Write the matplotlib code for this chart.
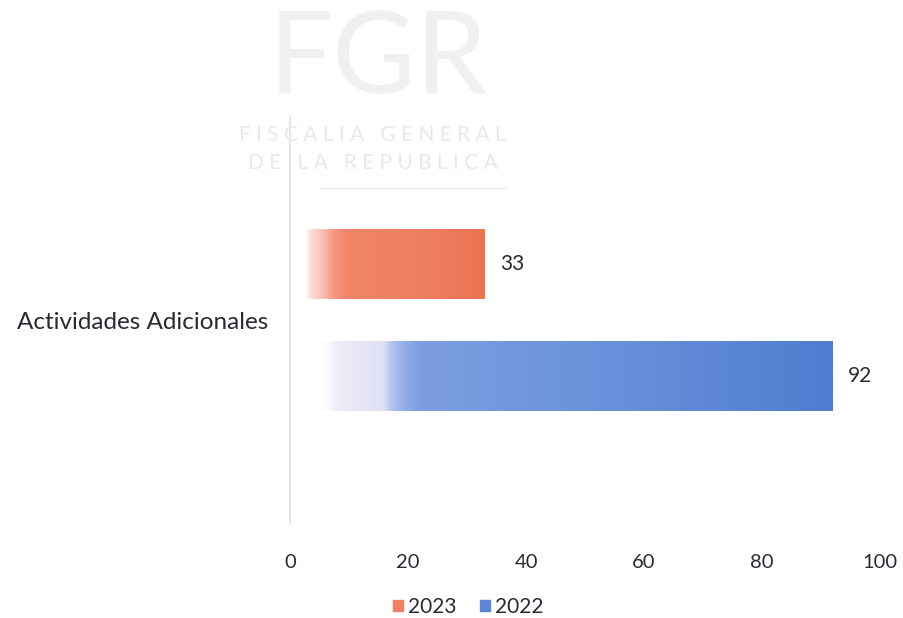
import numpy as np
import matplotlib
matplotlib.use("Agg")
import matplotlib.pyplot as plt
from matplotlib.colors import LinearSegmentedColormap
from matplotlib.patches import Patch

plt.rcParams['font.family'] = ['Lato', 'DejaVu Sans']

# datos
categoria = 'Actividades Adicionales'
anios = ['2023', '2022']
valores = [33, 92]
xticks = [0, 20, 40, 60, 80, 100]

# colores (degradado de blanco a color)
grad_2023 = [(0.0, '#ffffff'), (0.08, '#ffffff'), (0.10, '#fbe0dc'), (0.16, '#f8c3b8'),
             (0.23, '#f4947e'), (0.30, '#f08568'), (0.7, '#ef7e60'), (1.0, '#ed7352')]
grad_2022 = [(0.0, '#ffffff'), (0.06, '#ffffff'), (0.09, '#ececf7'), (0.17, '#dfe1f5'),
             (0.185, '#b8c5ee'), (0.21, '#90ade6'), (0.24, '#7c9ee0'), (0.6, '#6990da'),
             (1.0, '#4f7dd0')]
gradientes = [grad_2023, grad_2022]
solidos = ['#ef8063', '#5b86d6']
offsets = [-0.137, 0.137]
alto = 0.172

fig = plt.figure(figsize=(9.04, 6.18), dpi=100)
ax = fig.add_axes([0.3208, 0.1537, 0.6527, 0.657])

# marca de agua
fig.text(0.418, 0.902, 'FGR', fontsize=82, color='#f0f0f0', ha='center', va='center',
         zorder=0)
fig.text(0.412, 0.782, 'F I S C A L I A   G E N E R A L', fontsize=15, color='#e8e8e8',
         ha='center', va='center', zorder=0)
fig.text(0.412, 0.736, 'D E   L A   R E P U B L I C A', fontsize=15, color='#e8e8e8',
         ha='center', va='center', zorder=0)
fig.add_artist(plt.Line2D([0.354, 0.561], [0.696, 0.696], color='#efefef', lw=1, zorder=0))

for i in range(len(valores)):
    v = valores[i]
    y = offsets[i]
    bar = ax.barh(y, v, height=alto, color='none', edgecolor='none', zorder=2)[0]
    cmap = LinearSegmentedColormap.from_list('g%d' % i, gradientes[i])
    grad = np.linspace(0, 1, 256).reshape(1, -1)
    im = ax.imshow(grad, cmap=cmap, aspect='auto', extent=[0, v, y - alto / 2, y + alto / 2],
                   zorder=2, interpolation='bilinear')
    im.set_clip_path(bar)
    ax.annotate(str(v), (v, y), xytext=(11, 0), textcoords='offset points',
                va='center', ha='left', fontsize=15, color='#2a2a35')

ax.set_xlim(0, 100)
ax.set_ylim(0.5, -0.5)
ax.set_xticks(xticks)
ax.set_yticks([0])
ax.set_yticklabels([categoria], fontsize=17.5)
ax.tick_params(axis='both', length=0, labelcolor='#2a2a35')
ax.tick_params(axis='x', pad=22, labelsize=14.5)
ax.tick_params(axis='y', pad=16)
for s in ['top', 'right', 'bottom']:
    ax.spines[s].set_visible(False)
ax.spines['left'].set_color('#e6e6e6')
ax.spines['left'].set_linewidth(1.5)
ax.patch.set_alpha(0)

handles = [Patch(color=solidos[i], label=anios[i]) for i in range(len(anios))]
fig.legend(handles=handles, loc='center', bbox_to_anchor=(0.518, 0.018), ncol=2,
           frameon=False, fontsize=15, handlelength=0.5, handleheight=0.5,
           handletextpad=0.25, columnspacing=1.1, labelcolor='#2a2a35')

fig.savefig('out.png', dpi=100)
